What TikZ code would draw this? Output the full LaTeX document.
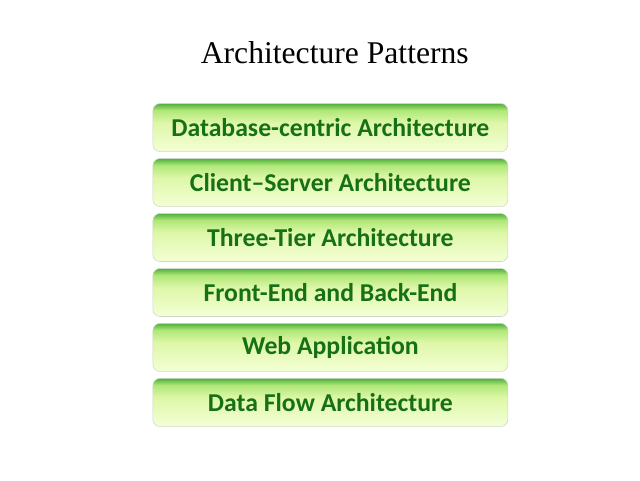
\documentclass[tikz,border=0pt]{standalone}
\usepackage{fontspec}
\setmainfont{Liberation Serif}
\newfontfamily\boxfont{Carlito}
\usetikzlibrary{positioning}
\definecolor{topgreen}{RGB}{80,175,60}
\definecolor{midgreen}{RGB}{175,232,120}
\definecolor{lightmid}{RGB}{222,247,168}
\definecolor{lightbottom}{RGB}{244,255,214}
\definecolor{textgreen}{RGB}{22,112,22}
\definecolor{rimgray}{RGB}{205,215,200}
\pgfdeclareverticalshading{patternshade}{100bp}{color(0bp)=(lightbottom); color(25bp)=(lightbottom); color(55bp)=(lightmid); color(68bp)=(midgreen); color(75bp)=(topgreen); color(100bp)=(topgreen)}
\tikzstyle{patternbox} = [draw=rimgray, thin, shading=patternshade, rectangle, rounded corners=5pt, minimum width=8.875cm, minimum height=1.2cm, font=\boxfont\bfseries\fontsize{18.3}{21}\selectfont, text=textgreen]
\tikzstyle{headline} = [font=\fontsize{22.5}{26}\selectfont]

\begin{document}
\begin{tikzpicture}
	\useasboundingbox (0,0) rectangle (16,12);
	\node[headline] (title) at (8.37,10.68) {Architecture Patterns};
	\node[patternbox] (dbcentric) at (8.26,8.81) {Database-centric Architecture};
	\node[patternbox, below=0.16cm of dbcentric] (clientserver) {Client\textendash Server Architecture};
	\node[patternbox, below=0.16cm of clientserver] (threetier) {Three-Tier Architecture};
	\node[patternbox, below=0.16cm of threetier] (frontback) {Front-End and Back-End};
	\node[patternbox, below=0.16cm of frontback] (webapp) {Web Application};
	\node[patternbox, below=0.16cm of webapp] (dataflow) {Data Flow Architecture};
\end{tikzpicture}
\end{document}
